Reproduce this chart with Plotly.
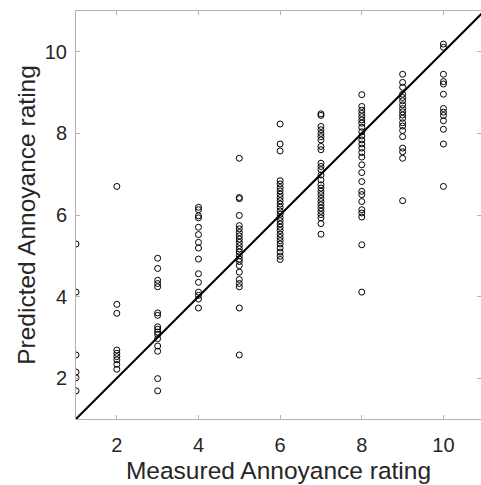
import plotly.graph_objects as go

col_x = [1, 2, 3, 4, 5, 6, 7, 8, 9, 10]
pred_by_col = {
    1: [5.29, 4.11, 2.57, 2.15, 2.01, 1.69],
    2: [6.70, 3.81, 3.59, 2.69, 2.61, 2.53, 2.45, 2.34, 2.22],
    3: [4.94, 4.69, 4.40, 4.32, 4.24, 3.60, 3.54, 3.26, 3.20, 3.13, 3.07, 2.97,
        2.79, 2.66, 1.99, 1.69],
    4: [6.19, 6.13, 5.98, 5.93, 5.70, 5.52, 5.33, 5.19, 4.92, 4.56, 4.35, 4.11,
        4.03, 3.94, 3.72],
    5: [7.39, 6.43, 6.40, 5.99, 5.74, 5.66, 5.57, 5.49, 5.41, 5.33, 5.25, 5.17,
        5.09, 5.00, 4.92, 4.86, 4.76, 4.60, 4.42, 4.32, 4.24, 3.72, 2.57],
    6: [8.23, 7.74, 7.57, 6.84, 6.76, 6.67, 6.59, 6.51, 6.43, 6.35, 6.27, 6.19,
        6.10, 6.02, 5.94, 5.86, 5.78, 5.70, 5.62, 5.53, 5.45, 5.37, 5.29, 5.19,
        5.09, 4.99, 4.91],
    7: [8.48, 8.44, 8.17, 8.09, 8.00, 7.92, 7.84, 7.68, 7.60, 7.27, 7.19, 7.11,
        6.98, 6.86, 6.74, 6.66, 6.58, 6.50, 6.41, 6.33, 6.25, 6.17, 6.09, 6.01,
        5.93, 5.79, 5.53],
    8: [8.95, 8.66, 8.57, 8.49, 8.41, 8.33, 8.25, 8.15, 8.04, 7.94, 7.84, 7.74,
        7.64, 7.53, 7.42, 7.23, 7.04, 6.82, 6.58, 6.50, 6.33, 6.13, 6.05, 5.95,
        5.27, 4.11],
    9: [9.45, 9.25, 9.13, 8.96, 8.88, 8.80, 8.70, 8.61, 8.53, 8.45, 8.37, 8.26,
        8.18, 8.07, 7.92, 7.64, 7.55, 7.39, 6.35],
    10: [10.19, 10.11, 9.45, 9.27, 9.21, 8.96, 8.61, 8.52, 8.44, 8.31, 8.10,
         7.74, 6.70],
}
ref_line = [1, 11]
tick_vals = [2, 4, 6, 8, 10]
x_title = "Measured Annoyance rating"
y_title = "Predicted Annoyance rating"

xs, ys = [], []
for c in col_x:
    for v in pred_by_col[c]:
        xs.append(c)
        ys.append(v)

fig = go.Figure()
fig.add_trace(go.Scatter(
    x=xs, y=ys, mode="markers",
    marker=dict(symbol="circle-open", size=6, color="black",
                line=dict(width=1, color="black")),
    showlegend=False,
))
fig.add_trace(go.Scatter(
    x=ref_line, y=ref_line, mode="lines",
    line=dict(color="black", width=2), showlegend=False,
))

font_fam = "Liberation Sans, Arial"
axis_common = dict(
    showgrid=False, zeroline=False, showline=True, linecolor="#b3b3b3",
    linewidth=1, mirror="ticks", ticks="inside", ticklen=4,
    tickcolor="#b3b3b3", tickvals=tick_vals, automargin=False,
    tickfont=dict(family=font_fam, size=20, color="#262626"),
)
fig.update_layout(
    width=481, height=485,
    margin=dict(l=76, r=0, t=11, b=66),
    paper_bgcolor="white", plot_bgcolor="white",
    xaxis=dict(range=[1, 10.92], ticklabelstandoff=8,
               title=dict(text=x_title, standoff=6,
                          font=dict(family=font_fam, size=24.5, color="#262626")),
               **axis_common),
    yaxis=dict(range=[1, 11], ticklabelstandoff=4,
               title=dict(text=y_title, standoff=2,
                          font=dict(family=font_fam, size=24.5, color="#262626")),
               **axis_common),
)
fig.write_html(
    "out.html",
    config={"displayModeBar": False},
    post_script="document.body.style.margin='0px';document.body.style.overflow='hidden';",
)
